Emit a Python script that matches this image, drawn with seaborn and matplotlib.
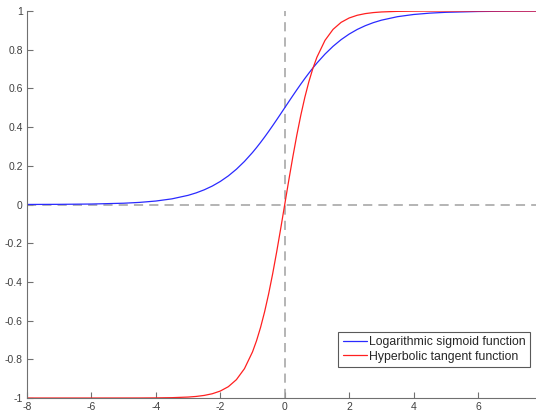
import pandas as pd
import seaborn as sns
import matplotlib.pyplot as plt

# values
x_vals = [-8, -7, -6, -5, -4.5, -4, -3.5, -3, -2.75, -2.5, -2.25, -2, -1.75, -1.5, -1.25,
          -1, -0.875, -0.75, -0.625, -0.5, -0.375, -0.25, -0.125, 0,
          0.125, 0.25, 0.375, 0.5, 0.625, 0.75, 0.875, 1,
          1.25, 1.5, 1.75, 2, 2.25, 2.5, 2.75, 3, 3.5, 4, 4.5, 5, 6, 7, 7.8]
logsig_vals = [0.0003, 0.0009, 0.0025, 0.0067, 0.0110, 0.0180, 0.0293, 0.0474, 0.0601, 0.0759,
               0.0953, 0.1192, 0.1480, 0.1824, 0.2227,
               0.2689, 0.2942, 0.3208, 0.3486, 0.3775, 0.4073, 0.4378, 0.4688, 0.5,
               0.5312, 0.5622, 0.5927, 0.6225, 0.6514, 0.6792, 0.7058, 0.7311,
               0.7773, 0.8176, 0.8520, 0.8808, 0.9047, 0.9241, 0.9399, 0.9526, 0.9707, 0.9820,
               0.9890, 0.9933, 0.9975, 0.9991, 0.9996]
tanh_vals = [-1.0, -1.0, -1.0, -0.9999, -0.9998, -0.9993, -0.9982, -0.9951, -0.9919, -0.9866,
             -0.9780, -0.9640, -0.9414, -0.9051, -0.8483,
             -0.7616, -0.7039, -0.6351, -0.5546, -0.4621, -0.3584, -0.2449, -0.1244, 0.0,
             0.1244, 0.2449, 0.3584, 0.4621, 0.5546, 0.6351, 0.7039, 0.7616,
             0.8483, 0.9051, 0.9414, 0.9640, 0.9780, 0.9866, 0.9919, 0.9951, 0.9982, 0.9993,
             0.9998, 0.9999, 1.0, 1.0, 1.0]

df = pd.DataFrame({"x": x_vals, "logsig": logsig_vals, "tanh": tanh_vals})

sns.set_style("white")
plt.rcParams['font.family'] = ['Liberation Sans', 'DejaVu Sans']

fig = plt.figure(figsize=(5.36, 4.11), dpi=100)
ax = fig.add_axes([0.0504, 0.0316, 0.9496, 0.9416])

# dashed zero lines
ax.axhline(0, color="#a0a0a0", ls=(0, (6, 4)), lw=1.1, zorder=1)
ax.axvline(0, color="#a0a0a0", ls=(0, (6, 4)), lw=1.1, zorder=1)

sns.lineplot(data=df, x="x", y="logsig", color="#2a2aff", lw=0.9, ax=ax,
             label="Logarithmic sigmoid function")
sns.lineplot(data=df, x="x", y="tanh", color="#ff2020", lw=0.9, ax=ax,
             label="Hyperbolic tangent function")

ax.set_xlim(-8, 7.8)
ax.set_ylim(-1, 1)
ax.set_xticks([-8, -6, -4, -2, 0, 2, 4, 6])
ax.set_xticklabels(["-8", "-6", "-4", "-2", "0", "2", "4", "6"])
ax.set_yticks([-1, -0.8, -0.6, -0.4, -0.2, 0, 0.2, 0.4, 0.6, 0.8, 1])
ax.set_yticklabels(["-1", "-0.8", "-0.6", "-0.4", "-0.2", "0", "0.2", "0.4", "0.6", "0.8", "1"])
ax.set_xlabel("")
ax.set_ylabel("")

for s in ["top", "right"]:
    ax.spines[s].set_visible(False)
for s in ["left", "bottom"]:
    ax.spines[s].set_color("#707070")
    ax.spines[s].set_linewidth(0.8)
ax.tick_params(direction="in", length=4, width=0.8, color="#707070",
               labelcolor="#404040", labelsize=7.5, pad=3)
ax.tick_params(axis="both", left=True, bottom=True)

leg = ax.legend(loc="lower right", bbox_to_anchor=(0.988, 0.08), fontsize=8.8,
                frameon=True, fancybox=False, edgecolor="#303030",
                handlelength=2.0, handletextpad=0.15, borderpad=0.35, labelspacing=0.2,
                borderaxespad=0)
leg.get_frame().set_linewidth(0.8)

fig.savefig("out.png", dpi=100)
